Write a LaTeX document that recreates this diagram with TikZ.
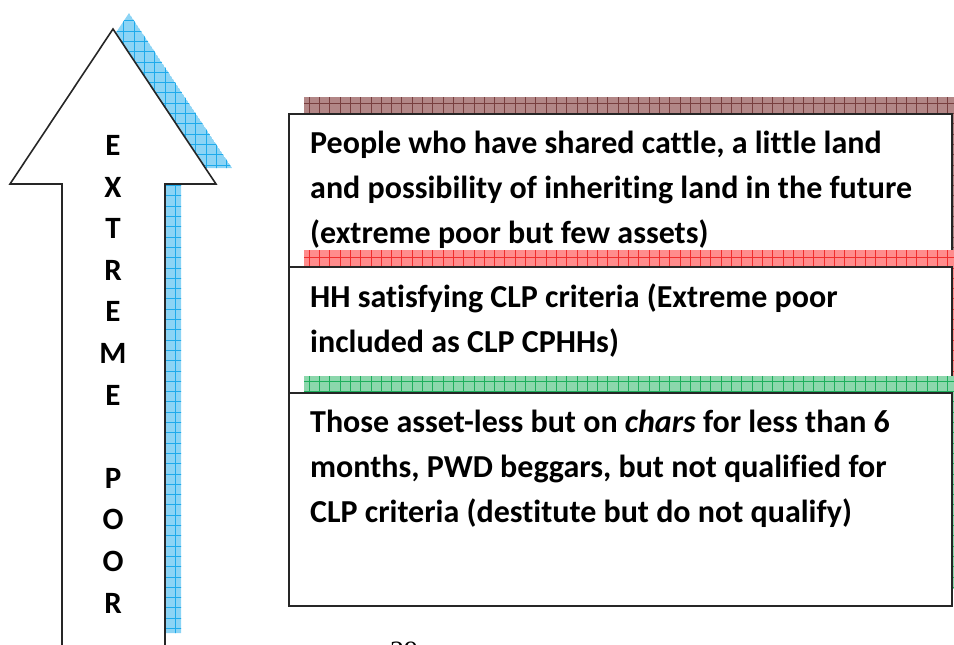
\documentclass[tikz,border=0pt]{standalone}
\usepackage{fontspec}
\setmainfont{Carlito}[Ligatures={NoCommon}]
\newfontfamily\pagenumfont{Liberation Serif}
\usetikzlibrary{calc}

% hatched shadow colours
\definecolor{blueFill}{RGB}{140,212,245}
\definecolor{blueLine}{RGB}{30,170,235}
\definecolor{brownFill}{RGB}{178,134,134}
\definecolor{brownLine}{RGB}{120,62,62}
\definecolor{redFill}{RGB}{255,140,140}
\definecolor{redLine}{RGB}{240,45,45}
\definecolor{greenFill}{RGB}{140,215,172}
\definecolor{greenLine}{RGB}{30,175,92}

% a shadow: light fill crossed by a fine grid, clipped to the given path
\newcommand{\hatchshadow}[3]{%
  \begin{scope}
    \clip #3;
    \fill[#1] #3;
    \draw[#2, line width=0.5pt, step=10.3pt] (0,0) grid (980,660);
  \end{scope}}

\tikzset{
  outline/.style={draw=black!85, line width=1.6pt},
  levelbox/.style={outline, fill=white, rectangle, anchor=north west, inner sep=0pt},
  % the base anchor of these multi-line texts sits on their last line
  leveltext/.style={anchor=base west, align=left, inner sep=0pt,
    font=\fontsize{32}{45}\selectfont\bfseries},
  letters/.style={anchor=base, align=center, inner sep=0pt,
    font=\fontsize{31}{41.6}\selectfont\bfseries},
}

\begin{document}
\begin{tikzpicture}[x=1pt, y=-1pt]
\useasboundingbox (0,0) rectangle (954,645);

% upward arrow with its shadow
\hatchshadow{blueFill}{blueLine}{(129,13) -- (232,168) -- (181,168) -- (181,633) -- (78,633) -- (78,168) -- (26,168) -- cycle}
\draw[outline, fill=white, line join=miter]
  (113,29) -- (216,184) -- (165,184) -- (165,649) -- (62,649) -- (62,184) -- (10,184) -- cycle;
\node[letters] (poorword) at (113,613) {E\\X\\T\\R\\E\\M\\E\\~\\P\\O\\O\\R};

% first level
\hatchshadow{brownFill}{brownLine}{(304,97) rectangle (967,250)}
\node[levelbox, minimum width=663pt, minimum height=153pt] (lvl1) at (288,113) {};
\node[leveltext] (txt1) at (310,243)
  {People who have shared cattle, a little land\\
   and possibility of inheriting land in the future\\
   (extreme poor but few assets)};

% second level
\hatchshadow{redFill}{redLine}{(304,250) rectangle (967,376)}
\node[levelbox, minimum width=663pt, minimum height=126pt] (lvl2) at (288,266) {};
\node[leveltext] (txt2) at (310,352)
  {HH satisfying CLP criteria (Extreme poor\\
   included as CLP CPHHs)};

% third level
\hatchshadow{greenFill}{greenLine}{(304,376) rectangle (967,589)}
\node[levelbox, minimum width=663pt, minimum height=213pt] (lvl3) at (288,392) {};
\node[leveltext] (txt3) at (310,522)
  {Those asset-less but on \textit{chars} for less than 6\\
   months, PWD beggars, but not qualified for\\
   CLP criteria (destitute but do not qualify)};

% page number at the foot
\node[anchor=base, inner sep=0pt, font=\pagenumfont\fontsize{28}{30}\selectfont] (pagenum) at (404,660) {29};
\end{tikzpicture}
\end{document}
